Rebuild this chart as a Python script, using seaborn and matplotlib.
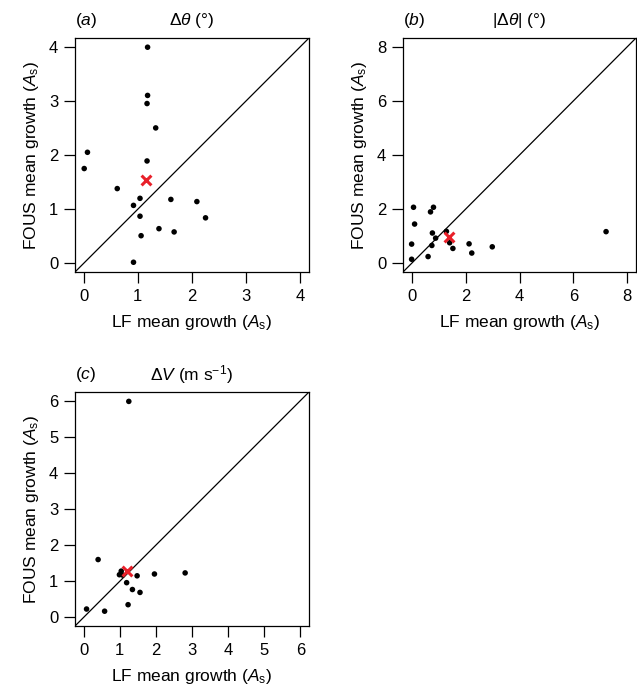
import numpy as np
import pandas as pd
import matplotlib
matplotlib.use("Agg")
import matplotlib.pyplot as plt
import seaborn as sns

sns.set_style("ticks")
plt.rcParams['font.family'] = ['Liberation Sans', 'DejaVu Sans']
plt.rcParams['mathtext.fontset'] = 'custom'
plt.rcParams['mathtext.rm'] = 'Liberation Sans'
plt.rcParams['mathtext.it'] = 'Liberation Sans:italic'
plt.rcParams['text.color'] = 'black'
plt.rcParams['axes.labelcolor'] = 'black'
plt.rcParams['xtick.color'] = 'black'
plt.rcParams['ytick.color'] = 'black'
plt.rcParams['axes.edgecolor'] = 'black'

# panel (a): delta theta
a_lf = [1.18, 1.18, 1.17, 1.33, 0.07, 0.01, 1.17, 0.62, 1.04, 0.92, 1.61, 2.09, 2.25, 1.04, 1.39, 1.67, 1.06, 0.92]
a_fous = [3.99, 3.10, 2.95, 2.50, 2.05, 1.75, 1.89, 1.38, 1.20, 1.07, 1.18, 1.14, 0.84, 0.87, 0.64, 0.58, 0.51, 0.02]
a_mean = (1.15, 1.54)

# panel (b): |delta theta|
b_lf = [0.07, 0.70, 0.81, 0.11, 0.77, 1.29, 0.00, 0.75, 0.89, 1.41, 1.53, 0.00, 0.61, 2.13, 2.23, 2.99, 7.21]
b_fous = [2.07, 1.90, 2.07, 1.45, 1.12, 1.18, 0.71, 0.66, 0.93, 0.76, 0.55, 0.15, 0.25, 0.72, 0.38, 0.61, 1.17]
b_mean = (1.38, 0.99)

# panel (c): delta V
c_lf = [1.25, 0.40, 1.04, 0.99, 1.08, 1.48, 1.96, 2.81, 1.19, 1.35, 1.56, 1.23, 0.08, 0.58]
c_fous = [5.98, 1.60, 1.28, 1.18, 1.17, 1.15, 1.20, 1.23, 0.96, 0.77, 0.69, 0.35, 0.23, 0.17]
c_mean = (1.20, 1.28)

panels = [
    ('a', r'$\Delta\theta$ (°)', a_lf, a_fous, a_mean, 4, 1),
    ('b', r'$|\Delta\theta|$ (°)', b_lf, b_fous, b_mean, 8, 2),
    ('c', r'$\Delta V$ (m s$^{-1}$)', c_lf, c_fous, c_mean, 6, 1),
]

W, H = 637, 700
boxes = [(75, 38), (403, 38), (75, 392)]
size = 234

fig = plt.figure(figsize=(W / 100, H / 100), dpi=100)

for (letter, title, lf, fous, mean, top, step), (x0, y0) in zip(panels, boxes):
    ax = fig.add_axes([x0 / W, (H - y0 - size) / H, min(size, W - x0 - 1) / W, size / H])
    df = pd.DataFrame({'lf': lf, 'fous': fous})
    sns.scatterplot(data=df, x='lf', y='fous', ax=ax, color='black', s=16,
                    edgecolor='none', zorder=3)
    ax.scatter([mean[0]], [mean[1]], marker='x', color='#e8202a', s=50,
               linewidths=2.2, zorder=4)
    pad = 0.04 * top
    ax.set_xlim(-pad, top + pad)
    ax.set_ylim(-pad, top + pad)
    ax.plot([-pad, top + pad], [-pad, top + pad], color='black', lw=0.9, zorder=2)
    ticks = np.arange(0, top + step, step)
    ax.set_xticks(ticks)
    ax.set_yticks(ticks)
    ax.tick_params(labelsize=12, length=8, width=0.9, pad=4, direction='out')
    for sp in ax.spines.values():
        sp.set_linewidth(0.9)
        sp.set_visible(True)
    ax.set_xlabel(r'LF mean growth ($A_\mathrm{s}$)', fontsize=12.5, labelpad=7)
    ax.set_ylabel(r'FOUS mean growth ($A_\mathrm{s}$)', fontsize=12.5, labelpad=6)
    ax.text(0.0, 1.075, '($' + letter + '$)', transform=ax.transAxes,
            fontsize=12.5, ha='left', va='center')
    ax.text(0.5, 1.075, title, transform=ax.transAxes,
            fontsize=12.5, ha='center', va='center')

fig.savefig('out.png', dpi=100, facecolor='white')
